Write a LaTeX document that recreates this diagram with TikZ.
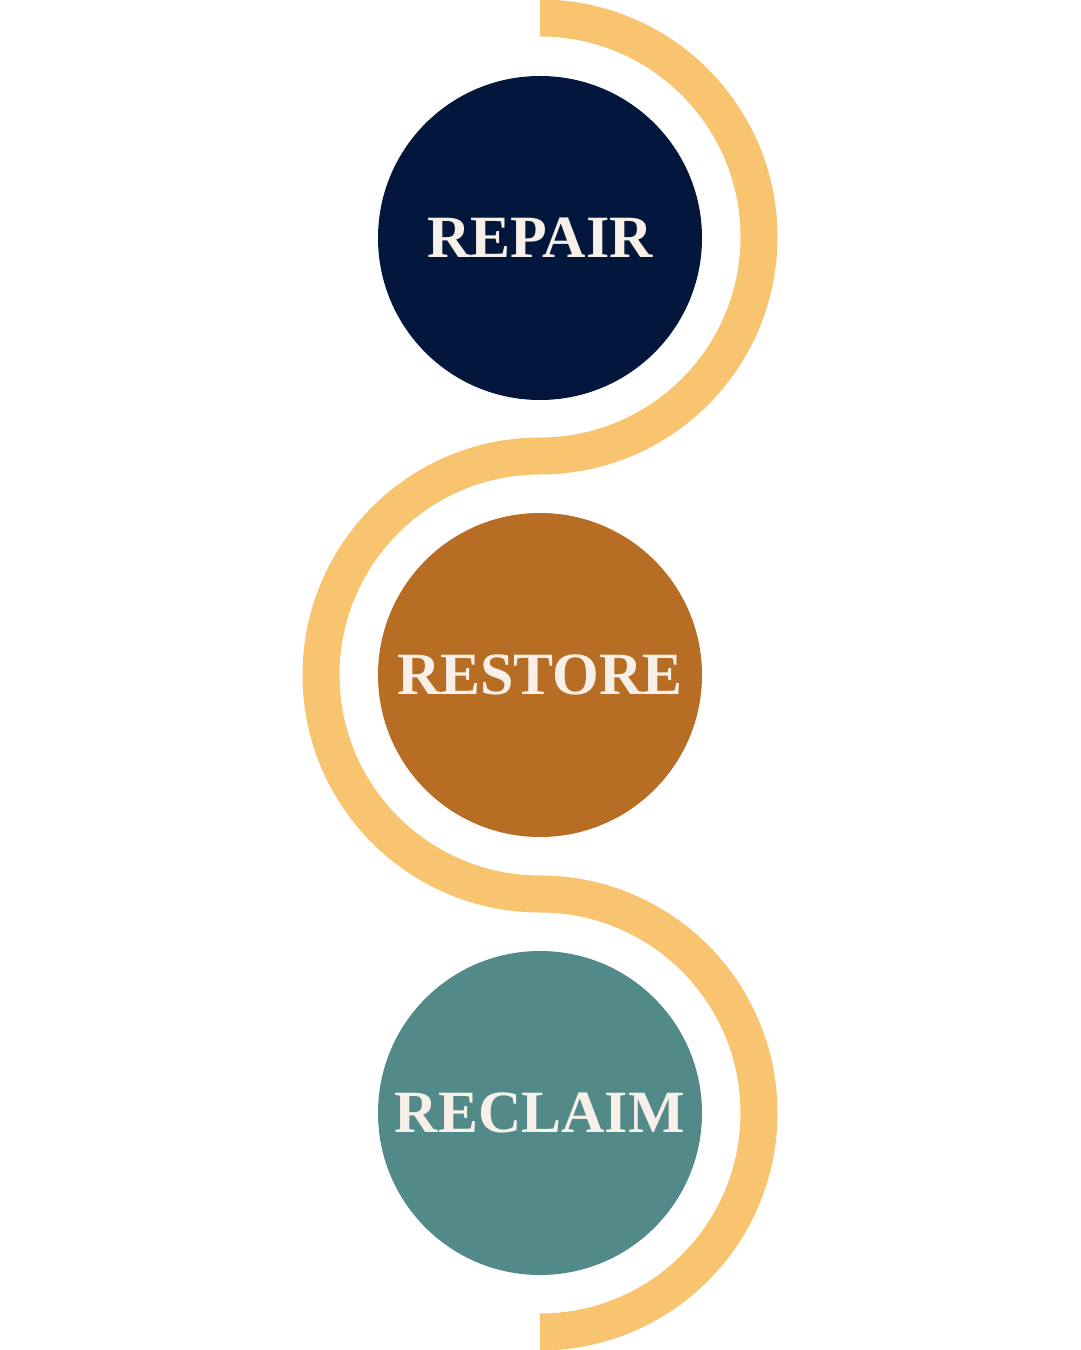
\documentclass[tikz,border=0pt]{standalone}
\usepackage{fontspec}
\setmainfont{Liberation Serif}
\definecolor{navy}{HTML}{03173D}
\definecolor{rust}{HTML}{B86D24}
\definecolor{teal}{HTML}{528A89}
\definecolor{sand}{HTML}{F8C470}
\definecolor{cream}{HTML}{F6F0E8}
\tikzset{every picture/.style={line width=0.75pt}}
\begin{document}
\begin{tikzpicture}[
    x=1pt, y=1pt,
    stage/.style={circle, minimum size=324pt, inner sep=0pt,
        text=cream, font=\fontsize{60}{60}\selectfont\bfseries},
]
    \useasboundingbox (0,0) rectangle (1080,1350);

    % winding band
    \draw[sand, line width=37pt] (540,1332) arc (90:-90:219)
        arc (90:270:219) arc (90:-90:219);

    \node[stage, fill=navy] (repair) at (540,1112) {REPAIR};
    \node[stage, fill=rust] (restore) at (540,675) {RESTORE};
    \node[stage, fill=teal] (reclaim) at (540,237) {RECLAIM};
\end{tikzpicture}
\end{document}
